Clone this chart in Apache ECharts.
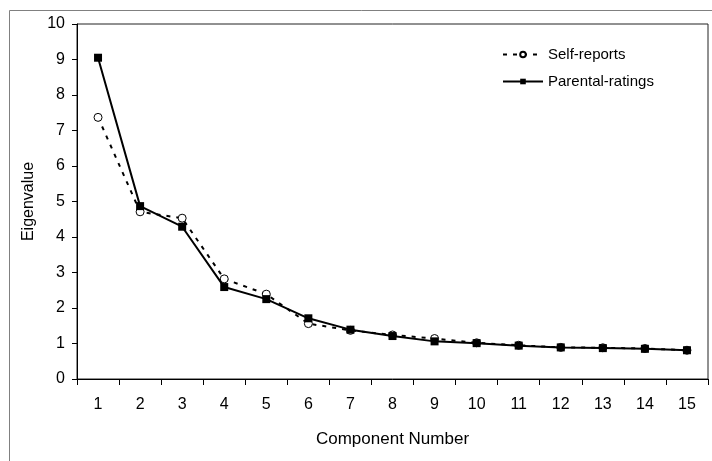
<!DOCTYPE html>
<html>
<head>
<meta charset="utf-8">
<script src="https://cdn.jsdelivr.net/npm/echarts@6/dist/echarts.min.js"></script>
<style>
html,body{margin:0;padding:0;background:#fff;}
#chart{width:712px;height:461px;}
</style>
</head>
<body>
<div id="chart"></div>
<script>
var categories = ['1','2','3','4','5','6','7','8','9','10','11','12','13','14','15'];
var selfReports = [7.37, 4.71, 4.53, 2.82, 2.39, 1.56, 1.37, 1.24, 1.14, 1.02, 0.95, 0.89, 0.88, 0.86, 0.81];
var parentalRatings = [9.05, 4.87, 4.29, 2.59, 2.25, 1.71, 1.39, 1.21, 1.06, 1.01, 0.94, 0.89, 0.87, 0.85, 0.81];
var yTicks = [0,1,2,3,4,5,6,7,8,9,10];

var FONT = '"Liberation Sans", Arial, sans-serif';
var chart = echarts.init(document.getElementById('chart'), null, {renderer: 'canvas'});
chart.setOption({
  animation: false,
  backgroundColor: '#ffffff',
  graphic: [{
    type: 'rect',
    shape: {x: 9.5, y: 10.5, width: 800, height: 500},
    style: {fill: 'none', stroke: '#808080', lineWidth: 1},
    silent: true, z: -10
  }],
  grid: {
    left: 77, top: 24, right: 4, bottom: 82,
    show: true, borderColor: '#222', borderWidth: 1, backgroundColor: '#fff'
  },
  legend: {
    orient: 'vertical',
    left: 502, top: 46,
    padding: 0,
    itemWidth: 40, itemHeight: 7, itemGap: 10,
    textStyle: {fontFamily: FONT, fontSize: 15, color: '#000', lineHeight: 17},
    data: ['Self-reports', 'Parental-ratings']
  },
  xAxis: {
    type: 'category',
    data: categories,
    boundaryGap: true,
    name: 'Component Number',
    nameLocation: 'middle',
    nameGap: 52,
    nameTextStyle: {fontFamily: FONT, fontSize: 17, color: '#000'},
    axisLine: {lineStyle: {color: '#000', width: 1}},
    axisTick: {show: true, length: 6, lineStyle: {color: '#000'}},
    axisLabel: {fontFamily: FONT, fontSize: 16, color: '#000', margin: 18, interval: 0},
    splitLine: {show: false}
  },
  yAxis: {
    type: 'value',
    min: 0, max: 10, interval: 1,
    name: 'Eigenvalue',
    nameLocation: 'middle',
    nameGap: 37,
    nameTextStyle: {fontFamily: FONT, fontSize: 16, color: '#000'},
    axisLine: {show: true, lineStyle: {color: '#000', width: 1}},
    axisTick: {show: true, length: 5, lineStyle: {color: '#000'}},
    axisLabel: {fontFamily: FONT, fontSize: 16, color: '#000', margin: 12,
      formatter: function (v) { return yTicks.indexOf(v) >= 0 ? String(v) : ''; }},
    splitLine: {show: false}
  },
  series: [{
    name: 'Self-reports',
    type: 'line',
    data: selfReports,
    symbol: 'circle',
    symbolSize: 8,
    showAllSymbol: true,
    itemStyle: {color: '#fff', borderColor: '#000', borderWidth: 1},
    lineStyle: {color: '#000', width: 2, type: [4, 6]},
    z: 2
  }, {
    name: 'Parental-ratings',
    type: 'line',
    data: parentalRatings,
    symbol: 'rect',
    symbolSize: 8,
    showAllSymbol: true,
    itemStyle: {color: '#000', borderColor: '#000', borderWidth: 0},
    lineStyle: {color: '#000', width: 2, type: 'solid'},
    z: 3
  }]
});
</script>
</body>
</html>
